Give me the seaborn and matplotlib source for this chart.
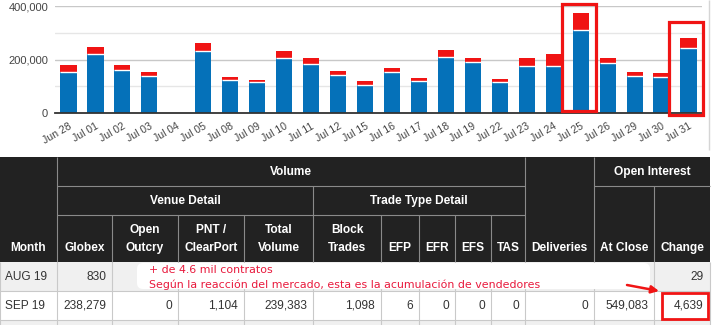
import matplotlib
matplotlib.use("Agg")
import matplotlib.pyplot as plt
from matplotlib.patches import Rectangle, FancyBboxPatch, Patch
from matplotlib.ticker import FixedLocator, FuncFormatter
import numpy as np
import pandas as pd
import seaborn as sns

# ---- daily volume (contracts) ----
days = ["Jun 28", "Jul 01", "Jul 02", "Jul 03", "Jul 04", "Jul 05", "Jul 08",
        "Jul 09", "Jul 10", "Jul 11", "Jul 12", "Jul 15", "Jul 16", "Jul 17",
        "Jul 18", "Jul 19", "Jul 22", "Jul 23", "Jul 24", "Jul 25", "Jul 26",
        "Jul 29", "Jul 30", "Jul 31"]
future = [153000, 220000, 160000, 138000, 0, 230000, 123000,
          116000, 205000, 183000, 142000, 104000, 153000, 119000,
          211000, 191000, 117000, 175000, 176000, 309000, 188000,
          138000, 134000, 242000]
option = [27000, 27000, 21000, 15000, 0, 33000, 10000,
          8000, 27000, 23000, 16000, 17000, 16000, 13000,
          25000, 15000, 11000, 32000, 46000, 65000, 19000,
          17000, 17000, 40000]
highlight_days = ["Jul 25", "Jul 31"]

# ---- settlement table ----
group_labels = ["Volume", "Open Interest"]
subgroup_labels = ["Venue Detail", "Trade Type Detail"]
column_labels = ["Month", "Globex", "Open\nOutcry", "PNT /\nClearPort", "Total\nVolume",
                 "Block\nTrades", "EFP", "EFR", "EFS", "TAS", "Deliveries",
                 "At Close", "Change"]
aug_row = ["AUG 19", "830", "", "", "", "", "", "", "", "", "", "", "29"]
sep_row = ["SEP 19", "238,279", "0", "1,104", "239,383", "1,098", "6", "0", "0",
           "0", "0", "549,083", "4,639"]
note_lines = ["+ de 4.6 mil contratos",
              "Según la reacción del mercado, esta es la acumulación de vendedores"]

BLUE = "#0571b9"
RED = "#f01414"
NOTE_RED = "#e8193c"

sns.set_style("white")
plt.rcParams["font.family"] = ["Liberation Sans", "DejaVu Sans"]

W, H = 715, 325
fig = plt.figure(figsize=(W / 100, H / 100), dpi=100)
fig.patch.set_facecolor("white")


def fx(px):
    return px / W


def fy(py):
    return 1 - py / H


# ================= table layer (pixel coordinates) =================
tax = fig.add_axes([0, 0, 1, 1], zorder=0)
tax.set_xlim(0, W)
tax.set_ylim(H, 0)
tax.axis("off")

col_edges = [0, 57, 112, 178, 244, 313, 381, 419, 455, 491, 525, 594, 654, 710]
hdr_top, hdr_r1, hdr_r2, hdr_bot = 157, 186, 215, 262
row_edges = [262, 291, 320, 349]
HDR_BG = "#222222"
HDR_LINE = "#8a8a8a"
CELL_LINE = "#c9c9c9"

tax.add_patch(Rectangle((0, hdr_top), col_edges[-1], hdr_bot - hdr_top,
                        fc=HDR_BG, ec="none"))


def hline(y, x0, x1, color, lw=0.8):
    tax.plot([x0, x1], [y, y], color=color, lw=lw, solid_capstyle="butt")


def vline(x, y0, y1, color, lw=0.8):
    tax.plot([x, x], [y0, y1], color=color, lw=lw, solid_capstyle="butt")


# header grid
vline(col_edges[1], hdr_top, hdr_bot, HDR_LINE)
vline(col_edges[10], hdr_top, hdr_bot, HDR_LINE)
vline(col_edges[11], hdr_top, hdr_bot, HDR_LINE)
hline(hdr_r1, col_edges[1], col_edges[10], HDR_LINE)
hline(hdr_r1, col_edges[11], col_edges[13], HDR_LINE)
vline(col_edges[5], hdr_r1, hdr_bot, HDR_LINE)
vline(col_edges[12], hdr_r1, hdr_bot, HDR_LINE)
hline(hdr_r2, col_edges[1], col_edges[10], HDR_LINE)
for i in [2, 3, 4, 6, 7, 8, 9]:
    vline(col_edges[i], hdr_r2, hdr_bot, HDR_LINE)

hdr_kw = dict(color="white", fontsize=8.6, fontweight="bold", ha="center", va="center")
tax.text((col_edges[1] + col_edges[10]) / 2, 172, group_labels[0], **hdr_kw)
tax.text((col_edges[11] + col_edges[13]) / 2, 172, group_labels[1], **hdr_kw)
tax.text((col_edges[1] + col_edges[5]) / 2, 201, subgroup_labels[0], **hdr_kw)
tax.text((col_edges[5] + col_edges[10]) / 2, 201, subgroup_labels[1], **hdr_kw)
for i, lab in enumerate(column_labels):
    cx = (col_edges[i] + col_edges[i + 1]) / 2
    parts = lab.split("\n")
    if len(parts) == 1:
        tax.text(cx, 248, parts[0], **hdr_kw)
    else:
        tax.text(cx, 230, parts[0], **hdr_kw)
        tax.text(cx, 248, parts[1], **hdr_kw)

# body rows
tax.add_patch(Rectangle((0, row_edges[0]), col_edges[-1], row_edges[1] - row_edges[0],
                        fc="#f0f0f0", ec="none"))
tax.add_patch(Rectangle((0, row_edges[2]), col_edges[-1], row_edges[3] - row_edges[2],
                        fc="#f0f0f0", ec="none"))
for y in row_edges[1:3]:
    hline(y, 0, col_edges[-1], CELL_LINE)
for x in col_edges:
    vline(x, row_edges[0], H, CELL_LINE)

for row, yc in [(aug_row, 277), (sep_row, 306)]:
    for i, val in enumerate(row):
        if not val:
            continue
        if i == 0:
            tax.text(col_edges[0] + 5, yc, val, ha="left", va="center",
                     fontsize=8.6, color="#333333")
        else:
            tax.text(col_edges[i + 1] - 6, yc, val, ha="right", va="center",
                     fontsize=8.6, color="#333333")

# callout note over the AUG row
tax.add_patch(FancyBboxPatch((137, 263), 513, 26,
                             boxstyle="round,pad=0,rounding_size=6",
                             fc="white", ec="none", zorder=3))
tax.text(149, 270, note_lines[0], color=NOTE_RED, fontsize=7.9, ha="left",
         va="center", family=["DejaVu Sans"], zorder=4)
tax.text(149, 285, note_lines[1], color=NOTE_RED, fontsize=7.9, ha="left",
         va="center", family=["DejaVu Sans"], zorder=4)
tax.annotate("", xy=(659, 291), xytext=(627, 285),
             arrowprops=dict(arrowstyle="-|>", color=RED, lw=1.8,
                             mutation_scale=11, shrinkA=0, shrinkB=0), zorder=4)
tax.add_patch(Rectangle((662, 293), 46, 26, fill=False, ec=RED, lw=2.0, zorder=4))

# scroll border on the right of the chart area
vline(709, 0, 150, "#d5d5d5", lw=1.0)

# ================= stacked bar chart =================
ax = fig.add_axes([fx(55), fy(113), fx(702) - fx(55), fy(6) - fy(113)], zorder=1)
df = pd.DataFrame({"day": days, "Future": future, "Option": option})
df["Total"] = df["Future"] + df["Option"]

sns.barplot(data=df, x="day", y="Total", order=days, color=RED, saturation=1,
            width=0.6, linewidth=0, ax=ax)
sns.barplot(data=df, x="day", y="Future", order=days, color=BLUE, saturation=1,
            width=0.6, linewidth=0, ax=ax)

# thin white seam between the two segments
xs = np.arange(len(days))
has_opt = df["Option"].to_numpy() > 0
ax.hlines(df["Future"].to_numpy()[has_opt], xs[has_opt] - 0.3, xs[has_opt] + 0.3,
          colors="white", lw=1.0, zorder=3)

ax.set_xlim(-0.5, len(days) - 0.5)
ax.set_ylim(0, 400000)
ax.yaxis.set_major_locator(FixedLocator([0, 200000, 400000]))
ax.yaxis.set_minor_locator(FixedLocator([100000, 300000]))
ax.yaxis.set_major_formatter(FuncFormatter(lambda v, p: f"{int(v):,}"))
ax.grid(axis="y", which="major", color="#c8c8c8", lw=1.0)
ax.grid(axis="y", which="minor", color="#e6e6e6", lw=1.0)
ax.set_axisbelow(True)
ax.tick_params(axis="y", which="both", length=0, pad=5, labelsize=8, labelcolor="#444444")
ax.tick_params(axis="x", length=0, pad=6, labelsize=7.6, labelcolor="#444444")
for lab in ax.get_xticklabels():
    lab.set_rotation(30)
    lab.set_ha("right")
    lab.set_rotation_mode("anchor")
ax.set_xlabel("")
ax.set_ylabel("")
for s in ["top", "right", "left"]:
    ax.spines[s].set_visible(False)
ax.spines["bottom"].set_color("#333333")
ax.spines["bottom"].set_linewidth(1.3)

# highlight frames around the two sessions of interest
frames = {"Jul 25": (-0.05, 8000, 407000), "Jul 31": (-0.08, -6000, 340000)}
for d in highlight_days:
    i = days.index(d)
    dx, lo, hi = frames[d]
    ax.add_patch(Rectangle((i + dx - 0.63, lo), 1.26, hi - lo, fill=False, ec=RED,
                           lw=2.3, clip_on=False, zorder=6))

# legend sits at the very top edge
fig.legend(handles=[Patch(color=BLUE, label="Future"), Patch(color=RED, label="Option")],
           loc="lower left", bbox_to_anchor=(fx(578), fy(4.5)), ncol=2, frameon=False,
           fontsize=8, borderpad=0, handlelength=2.2, handleheight=0.7,
           columnspacing=1.0, handletextpad=0.4, labelcolor="#333333")

fig.savefig("out.png", dpi=100)
